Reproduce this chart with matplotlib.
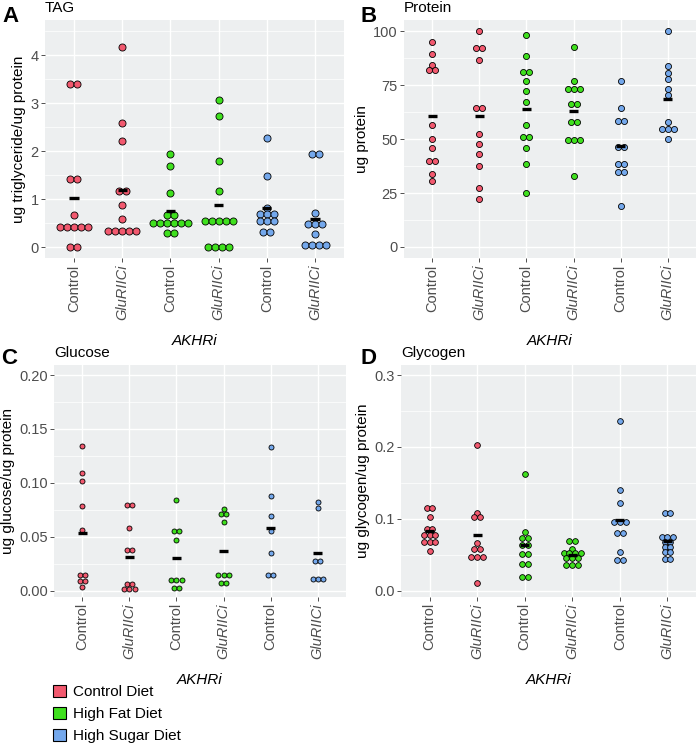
import matplotlib
matplotlib.use("Agg")
import matplotlib.pyplot as plt
from matplotlib.patches import Patch
from matplotlib.ticker import AutoMinorLocator, FormatStrFormatter
from collections import Counter, defaultdict

plt.rcParams['font.family'] = ['Liberation Sans', 'DejaVu Sans']

genotypes = ['Control', 'GluRIICi'] * 3
diets = ['Control Diet', 'High Fat Diet', 'High Sugar Diet']
diet_colors = ['#F2596F', '#3FE01E', '#74A8EC']

# TAG (ug triglyceride / ug protein)
tag_values = [
    [3.40, 3.40, 1.42, 1.42, 0.67, 0.41, 0.41, 0.41, 0.41, 0.41, 0.0, 0.0],
    [4.17, 2.58, 2.21, 1.16, 1.16, 0.87, 0.58, 0.33, 0.33, 0.33, 0.33, 0.33],
    [1.93, 1.69, 1.13, 0.66, 0.66, 0.51, 0.51, 0.51, 0.51, 0.51, 0.51, 0.29, 0.29],
    [3.06, 2.72, 1.79, 1.16, 0.54, 0.54, 0.54, 0.54, 0.54, 0.0, 0.0, 0.0, 0.0],
    [2.27, 1.48, 0.82, 0.68, 0.68, 0.68, 0.54, 0.54, 0.54, 0.32, 0.32],
    [1.94, 1.94, 0.70, 0.47, 0.47, 0.47, 0.28, 0.04, 0.04, 0.04, 0.04],
]
tag_means = [1.02, 1.18, 0.74, 0.88, 0.81, 0.59]

# Protein (ug)
protein_values = [
    [94.9, 89.6, 84.4, 81.8, 81.8, 56.7, 50.1, 46.0, 39.9, 39.9, 34.0, 30.6],
    [100.0, 92.1, 92.1, 86.8, 64.4, 64.4, 52.2, 47.6, 43.0, 37.7, 27.5, 22.4],
    [98.3, 88.7, 81.3, 81.3, 77.1, 72.5, 67.2, 56.7, 51.0, 51.0, 45.7, 38.5, 25.0],
    [92.5, 76.8, 73.1, 73.1, 73.1, 66.3, 66.3, 58.1, 58.1, 49.6, 49.6, 49.6, 32.9],
    [76.8, 64.3, 58.6, 58.6, 46.2, 46.2, 38.3, 38.3, 34.9, 34.9, 19.0],
    [100.0, 83.9, 80.8, 77.9, 73.2, 70.3, 58.1, 54.6, 54.6, 54.6, 50.1],
]
protein_means = [60.7, 60.7, 64.1, 63.0, 46.8, 68.8]

# Glucose (ug glucose / ug protein)
glucose_values = [
    [0.134, 0.109, 0.102, 0.078, 0.056, 0.014, 0.014, 0.009, 0.009, 0.003],
    [0.079, 0.079, 0.058, 0.038, 0.038, 0.006, 0.006, 0.001, 0.001, 0.001],
    [0.084, 0.055, 0.055, 0.047, 0.010, 0.010, 0.010, 0.002, 0.002],
    [0.076, 0.071, 0.071, 0.064, 0.014, 0.014, 0.014, 0.007, 0.007],
    [0.133, 0.088, 0.069, 0.055, 0.035, 0.014, 0.014],
    [0.082, 0.077, 0.027, 0.027, 0.011, 0.011, 0.011],
]
glucose_means = [0.053, 0.031, 0.030, 0.037, 0.058, 0.035]

# Glycogen (ug glycogen / ug protein)
glycogen_values = [
    [0.115, 0.115, 0.102, 0.085, 0.085, 0.077, 0.077, 0.077, 0.068, 0.068, 0.068, 0.055],
    [0.203, 0.108, 0.102, 0.102, 0.066, 0.058, 0.058, 0.046, 0.046, 0.046, 0.011],
    [0.162, 0.081, 0.073, 0.073, 0.063, 0.063, 0.051, 0.051, 0.037, 0.037, 0.019, 0.019],
    [0.069, 0.069, 0.058, 0.052, 0.052, 0.052, 0.052, 0.045, 0.045, 0.045, 0.035, 0.035, 0.035],
    [0.236, 0.140, 0.122, 0.095, 0.095, 0.095, 0.080, 0.080, 0.054, 0.043, 0.043],
    [0.108, 0.108, 0.075, 0.075, 0.075, 0.068, 0.068, 0.061, 0.061, 0.053, 0.053, 0.044, 0.044],
]
glycogen_means = [0.083, 0.077, 0.063, 0.049, 0.098, 0.069]


def draw_panel(ax, values, means, ylim, yticks, yfmt, ylabel, title, spacing, size):
    ax.set_facecolor('#EDEFF0')
    for s in ax.spines.values():
        s.set_visible(False)
    for i, (vals, m) in enumerate(zip(values, means)):
        x0 = i + 1
        counts = Counter(vals)
        seen = defaultdict(int)
        xs = []
        for v in vals:
            n = counts[v]
            k = seen[v]
            seen[v] += 1
            xs.append(x0 + (k - (n - 1) / 2) * spacing)
        ax.scatter(xs, vals, s=size, c=diet_colors[i // 2], edgecolors='black',
                   linewidths=0.6, zorder=3)
        ax.hlines(m, x0 - 0.095, x0 + 0.095, color='black', lw=2.4, zorder=4)

    ax.set_xlim(0.4, 6.6)
    ax.set_ylim(*ylim)
    ax.set_xticks(range(1, 7))
    ax.set_xticklabels(genotypes, rotation=90, fontsize=10.5, color='#4D4D4D')
    for lbl in ax.get_xticklabels():
        if lbl.get_text() == 'GluRIICi':
            lbl.set_style('italic')
    ax.set_yticks(yticks)
    ax.yaxis.set_major_formatter(FormatStrFormatter(yfmt))
    ax.yaxis.set_minor_locator(AutoMinorLocator(2))
    ax.tick_params(axis='both', which='major', length=3, width=0.6, color='#333333',
                   labelsize=10.5, labelcolor='#4D4D4D', pad=1.5)
    ax.tick_params(axis='y', which='minor', length=0)
    ax.grid(True, which='major', color='white', lw=1.0, zorder=0)
    ax.grid(True, which='minor', axis='y', color='white', lw=0.5, zorder=0)
    ax.set_axisbelow(True)
    ax.set_ylabel(ylabel, fontsize=11, labelpad=3)
    ax.set_xlabel('AKHRi', style='italic', fontsize=11, labelpad=10)
    ax.text(0.0, 1.022, title, transform=ax.transAxes, ha='left', va='bottom', fontsize=11)


fig = plt.figure(figsize=(7, 7.49), dpi=100)
W, H = 700, 749

def box(l, r, t, b):
    return [l / W, 1 - b / H, (r - l) / W, (b - t) / H]

axA = fig.add_axes(box(45, 344, 20, 258))
axB = fig.add_axes(box(404, 696, 20, 258))
axC = fig.add_axes(box(54, 346, 365, 597))
axD = fig.add_axes(box(401, 696, 365, 597))

draw_panel(axA, tag_values, tag_means, (-0.229, 4.73), [0, 1, 2, 3, 4], '%d',
           'ug triglyceride/ug protein', 'TAG', 0.146, 26)
draw_panel(axB, protein_values, protein_means, (-5.1, 105.2), [0, 25, 50, 75, 100], '%d',
           'ug protein', 'Protein', 0.127, 19)
draw_panel(axC, glucose_values, glucose_means, (-0.006, 0.2093), [0, 0.05, 0.10, 0.15, 0.20], '%.2f',
           'ug glucose/ug protein', 'Glucose', 0.111, 13)
draw_panel(axD, glycogen_values, glycogen_means, (-0.009, 0.314), [0, 0.1, 0.2, 0.3], '%.1f',
           'ug glycogen/ug protein', 'Glycogen', 0.123, 17)

for letter, x, y in [('A', 2, 22), ('B', 361, 22), ('C', 1, 364), ('D', 361, 364)]:
    fig.text(x / W, 1 - y / H, letter, fontsize=16, fontweight='bold', ha='left', va='baseline')

handles = [Patch(facecolor=c, edgecolor='black', lw=0.8) for c in diet_colors]
fig.legend(handles, diets, loc='upper left', bbox_to_anchor=(53 / W, 1 - 685 / H),
           frameon=False, fontsize=11, handlelength=0.85, handleheight=0.85,
           labelspacing=0.5, handletextpad=0.45, borderaxespad=0, borderpad=0)

fig.savefig('out.png', dpi=100)
